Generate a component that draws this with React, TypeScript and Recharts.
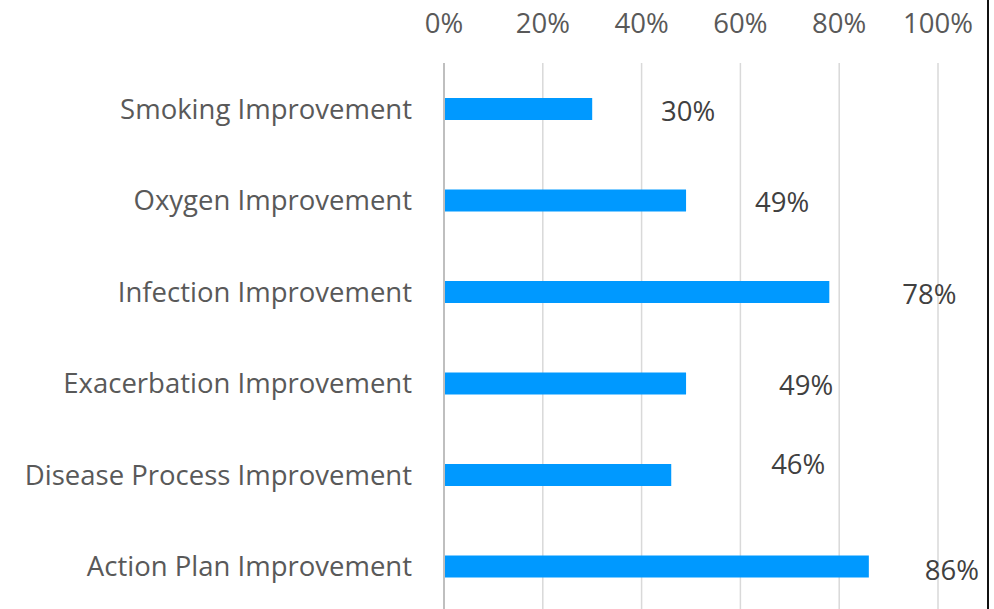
import React from 'react';
import { BarChart, Bar, XAxis, YAxis, CartesianGrid, LabelList } from 'recharts';

const categories = [
  'Smoking Improvement',
  'Oxygen Improvement',
  'Infection Improvement',
  'Exacerbation Improvement',
  'Disease Process Improvement',
  'Action Plan Improvement',
];
const improvement = [30, 49, 78, 49, 46, 86];
const xTicks = [0, 20, 40, 60, 80, 100];

// hand-placed label nudges (the labels in the source were dragged around)
const labelNudge = [
  { dx: 96, dy: 1 },
  { dx: 96, dy: 1 },
  { dx: 100, dy: 1 },
  { dx: 120, dy: 1 },
  { dx: 127, dy: -12 },
  { dx: 83, dy: 3 },
];

const data = categories.map((name, i) => ({ name, value: improvement[i] }));

const FONT = '"Open Sans", Lato, sans-serif';
const FS = 27.5;

const ValueLabel = (props: any) => {
  const { x, y, width, height, value, index } = props;
  const n = labelNudge[index] || { dx: 40, dy: 0 };
  return (
    <text
      x={x + width + n.dx}
      y={y + height / 2 + n.dy}
      textAnchor="middle"
      dominantBaseline="central"
      fill="#404040"
      style={{ fontSize: FS, fontFamily: FONT }}
    >
      {value}%
    </text>
  );
};

export default function App() {
  return (
    <div style={{ position: 'absolute', left: 0, top: 0, width: 994, height: 609, overflow: 'hidden', background: '#fff' }}>
      <div style={{ position: 'absolute', left: 987, top: 0, width: 2, height: 609, background: '#111' }}></div>
      <BarChart
        width={994}
        height={612}
        data={data}
        layout="vertical"
        margin={{ top: 0, right: 56, bottom: 0, left: 0 }}
        barCategoryGap="38%"
      >
        <CartesianGrid horizontal={false} stroke="#d9d9d9" strokeWidth={1.5} />
        <XAxis
          type="number"
          orientation="top"
          domain={[0, 100]}
          ticks={xTicks}
          tickFormatter={(v) => `${v}%`}
          height={63}
          axisLine={false}
          tickLine={false}
          tickMargin={24}
          tick={{ fill: '#595959', fontSize: FS, fontFamily: FONT }}
        />
        <YAxis
          type="category"
          dataKey="name"
          width={444}
          axisLine={{ stroke: '#bfbfbf', strokeWidth: 2 }}
          tickLine={false}
          tickMargin={26}
          tick={{ fill: '#595959', fontSize: FS, fontFamily: FONT }}
        />
        <Bar dataKey="value" fill="#0099ff" barSize={22} isAnimationActive={false}>
          <LabelList dataKey="value" content={ValueLabel} />
        </Bar>
      </BarChart>
    </div>
  );
}
